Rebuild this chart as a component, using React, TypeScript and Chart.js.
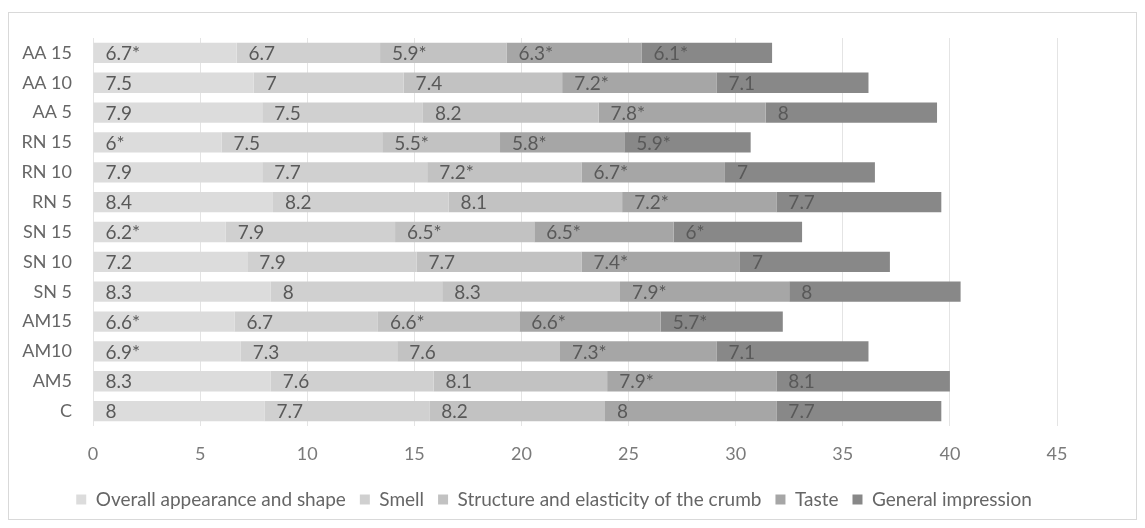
import React, { useEffect, useRef } from "react";
import { Chart, registerables } from "chart.js";

Chart.register(...registerables);

const categories = ["AA 15", "AA 10", "AA 5", "RN 15", "RN 10", "RN 5", "SN 15", "SN 10", "SN 5", "AM15", "AM10", "AM5", "C"];

const seriesNames = [
  "Overall appearance and shape",
  "Smell",
  "Structure and elasticity of the crumb",
  "Taste",
  "General impression",
];

const overallValues = [6.7, 7.5, 7.9, 6, 7.9, 8.4, 6.2, 7.2, 8.3, 6.6, 6.9, 8.3, 8];
const overallStars = [true, false, false, true, false, false, true, false, false, true, true, false, false];

const smellValues = [6.7, 7, 7.5, 7.5, 7.7, 8.2, 7.9, 7.9, 8, 6.7, 7.3, 7.6, 7.7];
const smellStars = [false, false, false, false, false, false, false, false, false, false, false, false, false];

const structureValues = [5.9, 7.4, 8.2, 5.5, 7.2, 8.1, 6.5, 7.7, 8.3, 6.6, 7.6, 8.1, 8.2];
const structureStars = [true, false, false, true, true, false, true, false, false, true, false, false, false];

const tasteValues = [6.3, 7.2, 7.8, 5.8, 6.7, 7.2, 6.5, 7.4, 7.9, 6.6, 7.3, 7.9, 8];
const tasteStars = [true, true, true, true, true, true, true, true, true, true, true, true, false];

const generalValues = [6.1, 7.1, 8, 5.9, 7, 7.7, 6, 7, 8, 5.7, 7.1, 8.1, 7.7];
const generalStars = [true, false, false, true, false, false, true, false, false, true, false, false, false];

const xTicks = [0, 5, 10, 15, 20, 25, 30, 35, 40, 45];

const colors = ["#dcdcdc", "#d0d0d0", "#c2c2c2", "#a6a6a6", "#888888"];

const FONT = "Lato, 'Open Sans', sans-serif";
const TEXT = "#595959";

export default function App() {
  const ref = useRef<HTMLCanvasElement | null>(null);

  useEffect(() => {
    if (!ref.current) return;
    const values = [overallValues, smellValues, structureValues, tasteValues, generalValues];
    const stars = [overallStars, smellStars, structureStars, tasteStars, generalStars];

    const labelPlugin = {
      id: "segLabels",
      afterDatasetsDraw(chart: any) {
        const ctx = chart.ctx;
        ctx.save();
        ctx.font = `19px ${FONT}`;
        ctx.fillStyle = TEXT;
        ctx.textAlign = "left";
        ctx.textBaseline = "middle";
        chart.data.datasets.forEach((ds: any, di: number) => {
          const meta = chart.getDatasetMeta(di);
          meta.data.forEach((bar: any, i: number) => {
            const v = values[di][i];
            const txt = String(v) + (stars[di][i] ? "*" : "");
            const left = Math.min(bar.x, bar.base);
            ctx.fillText(txt, left + 12, bar.y + 1);
          });
        });
        ctx.restore();
      },
    };

    const chart = new Chart(ref.current, {
      type: "bar",
      data: {
        labels: categories,
        datasets: seriesNames.map((name, i) => ({
          label: name,
          data: values[i],
          backgroundColor: colors[i],
          borderWidth: 0,
          categoryPercentage: 1,
          barPercentage: 0.68,
        })),
      },
      options: {
        indexAxis: "y",
        animation: false,
        responsive: false,
        maintainAspectRatio: false,
        layout: { padding: { left: 0, right: 37, top: 25, bottom: 0 } },
        scales: {
          x: {
            stacked: true,
            min: 0,
            max: 45,
            afterBuildTicks: (axis: any) => {
              axis.ticks = xTicks.map((v) => ({ value: v }));
            },
            afterFit: (axis: any) => {
              axis.height = 50;
              axis.paddingRight = 79;
            },
            grid: { color: "#e4e4e4", drawTicks: false },
            border: { display: false },
            ticks: {
              padding: 17,
              color: "#7a7a7a",
              font: { family: FONT, size: 18 },
            },
          },
          y: {
            stacked: true,
            afterFit: (axis: any) => {
              axis.width = 84;
            },
            grid: { display: false },
            border: { display: false },
            ticks: {
              padding: 13,
              color: "#666666",
              font: { family: FONT, size: 18 },
            },
          },
        },
        plugins: {
          legend: {
            position: "bottom",
            labels: {
              boxWidth: 10,
              boxHeight: 10,
              padding: 14,
              color: "#666666",
              font: { family: FONT, size: 19 },
            },
          },
          tooltip: { enabled: false },
        },
      },
      plugins: [labelPlugin],
    });
    return () => chart.destroy();
  }, []);

  return (
    <div
      style={{
        width: 1129,
        height: 508,
        marginTop: 4,
        border: "1px solid #d9d9d9",
        boxSizing: "border-box",
        background: "#fff",
      }}
    >
      <canvas ref={ref} width={1127} height={506} style={{ display: "block" }} />
    </div>
  );
}
